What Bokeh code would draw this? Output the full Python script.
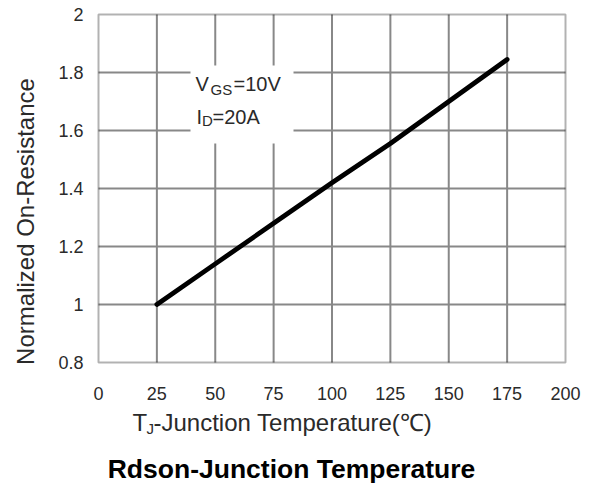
import math
from bokeh.plotting import figure
from bokeh.models import Range1d, FixedTicker, Label, BoxAnnotation, LinearAxis
from bokeh.embed import file_html
from bokeh.resources import INLINE

# ---- data ----
temps = [25, 50, 75, 100, 125, 150, 175]
rds_norm = [1.0, 1.14, 1.28, 1.42, 1.555, 1.70, 1.845]
x_ticks = [0, 25, 50, 75, 100, 125, 150, 175, 200]
y_ticks = [0.8, 1.0, 1.2, 1.4, 1.6, 1.8, 2.0]
y_tick_labels = ["0.8", "1", "1.2", "1.4", "1.6", "1.8", "2"]
x_title_main = "T"
x_title_sub = "J"
x_title_rest = "-Junction Temperature(\u2103)"
y_title = "Normalized On-Resistance"
chart_title = "Rdson-Junction Temperature"
cond1 = ("V", "GS", "=10V")
cond2 = ("I", "D", "=20A")

# ---- layout (canvas pixels) ----
W, H = 592, 485
FL, FR, FT, FB = 98, 565, 14, 362          # plot-area box in pixels
X0, X1, Y0, Y1 = 0, 200, 0.8, 2.0

def dx(px):
    return X0 + (px - FL) / (FR - FL) * (X1 - X0)

def dy(py):
    return Y1 - (py - FT) / (FB - FT) * (Y1 - Y0)

FONT = "Liberation Sans"
TXT = "#2a2a2a"

p = figure(width=W, height=H, output_backend="svg", toolbar_location=None,
           x_axis_location=None, y_axis_location=None,
           x_range=Range1d(dx(0), dx(W)), y_range=Range1d(dy(H), dy(0)),
           min_border=0)
p.background_fill_color = "white"
p.border_fill_color = "white"
p.outline_line_color = None
p.grid.visible = False

xaxis = LinearAxis(fixed_location=Y0, bounds=(X0, X1), ticker=FixedTicker(ticks=x_ticks))
yaxis = LinearAxis(fixed_location=X0, bounds=(Y0, Y1), ticker=FixedTicker(ticks=y_ticks))
yaxis.major_label_overrides = {t: l for t, l in zip(y_ticks, y_tick_labels)}
for ax in (xaxis, yaxis):
    ax.axis_line_color = None
    ax.major_tick_line_color = None
    ax.minor_tick_line_color = None
    ax.major_label_text_font = FONT
    ax.major_label_text_font_size = "18px"
    ax.major_label_text_color = TXT
xaxis.major_label_standoff = 18
yaxis.major_label_standoff = 9
p.add_layout(xaxis, "below")
p.add_layout(yaxis, "left")

# grid lines at the tick positions
gx = x_ticks[1:-1]
gy = y_ticks[1:-1]
p.segment(x0=gx, y0=[Y0] * len(gx), x1=gx, y1=[Y1] * len(gx),
          line_color="#888888", line_width=2, level="underlay")
p.segment(x0=[X0] * len(gy), y0=gy, x1=[X1] * len(gy), y1=gy,
          line_color="#888888", line_width=2, level="underlay")

# white box behind the conditions text
p.add_layout(BoxAnnotation(left=dx(190), right=dx(293), top=dy(65), bottom=dy(143),
                           fill_color="white", fill_alpha=1.0, line_color=None,
                           level="underlay"))

p.line(temps, rds_norm, line_color="black", line_width=4.8, line_cap="round", line_join="round")

# plot-area frame
p.add_layout(BoxAnnotation(left=X0, right=X1, bottom=Y0, top=Y1, fill_color=None,
                           line_color="black", line_width=2))

def lab(text, px, py, size, **kw):
    l = Label(x=dx(px), y=dy(py), text=text, text_font=FONT, text_font_size=size,
              text_color=kw.pop("color", TXT), text_baseline="middle", **kw)
    p.add_layout(l)

# conditions text (y = vertical centre of the capitals)
lab(cond1[0], 195, 83, "20px")
lab(cond1[1], 210, 88.5, "15px")
lab(cond1[2], 233, 83, "20px")
lab(cond2[0], 196, 116, "20px")
lab(cond2[1], 201.5, 120, "15px")
lab(cond2[2], 212, 116, "20px")

# x axis title
lab(x_title_main, 132, 422, "24px")
lab(x_title_sub, 146, 428, "15px")
lab(x_title_rest, 153, 422, "24px")

# y axis title
lab(y_title, 25, 221, "24px", text_align="center", angle=math.pi / 2)

# chart title
lab(chart_title, 291, 468, "26.5px", text_align="center",
    text_font_style="bold", color="black")

open("out.html", "w").write(file_html(p, INLINE))
